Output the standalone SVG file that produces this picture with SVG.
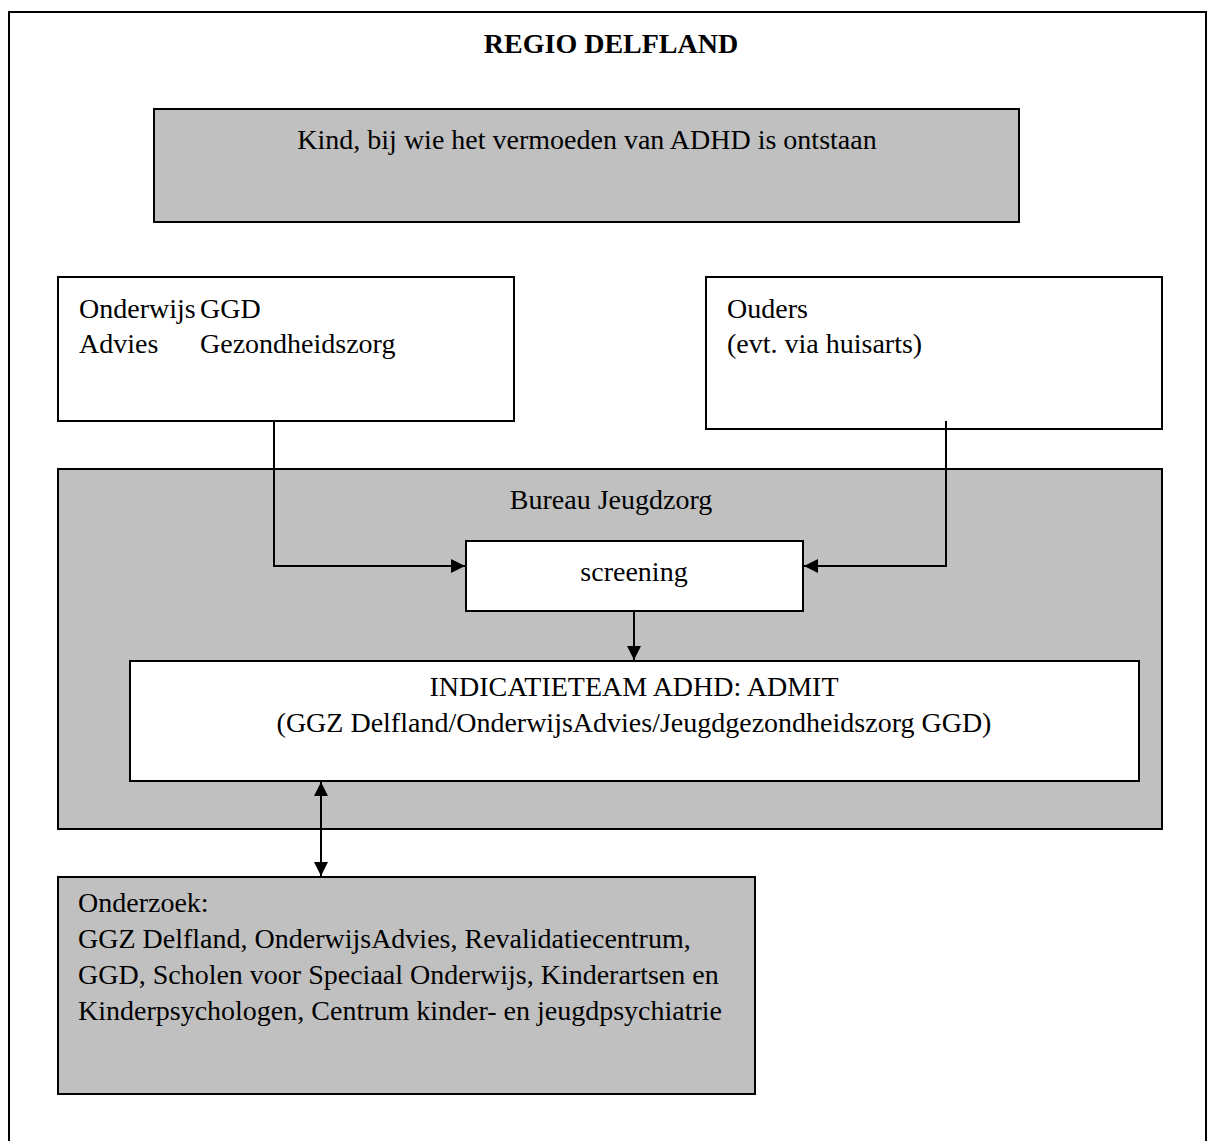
<svg xmlns="http://www.w3.org/2000/svg" width="1213" height="1141" viewBox="0 0 1213 1141">
<style>
text{font-family:"Liberation Serif","Times New Roman",serif;font-size:28px;fill:#000}
.box{stroke:#000;stroke-width:2}
.g{fill:#c0c0c0}
.w{fill:#fff}
.c{fill:none;stroke:#000;stroke-width:2}
</style>
<defs>
<marker id="ah2" viewBox="0 0 10 10" refX="10" refY="5" markerWidth="16" markerHeight="14" markerUnits="userSpaceOnUse" orient="auto-start-reverse">
<path d="M0,0 L10,5 L0,10 z" fill="#000"/>
</marker>
</defs>
<rect width="1213" height="1141" fill="#fff"/>
<g id="frame">
<rect class="box" x="9" y="12" width="1197" height="1150" fill="none"/>
<text x="611" y="53" text-anchor="middle" font-weight="bold">REGIO DELFLAND</text>
</g>
<g id="kind">
<rect class="box g" x="154" y="109" width="865" height="113"/>
<text x="587" y="149" text-anchor="middle">Kind, bij wie het vermoeden van ADHD is ontstaan</text>
</g>
<g id="onderwijs">
<rect class="box w" x="58" y="277" width="456" height="144"/>
<text x="79" y="318">Onderwijs</text>
<text x="200" y="318">GGD</text>
<text x="79" y="353">Advies</text>
<text x="200" y="353">Gezondheidszorg</text>
</g>
<g id="ouders">
<rect class="box w" x="706" y="277" width="456" height="152"/>
<text x="727" y="318">Ouders</text>
<text x="727" y="353">(evt. via huisarts)</text>
</g>
<g id="bureau">
<rect class="box g" x="58" y="469" width="1104" height="360"/>
<text x="611" y="509" text-anchor="middle">Bureau Jeugdzorg</text>
</g>
<g id="screening">
<rect class="box w" x="466" y="541" width="337" height="70"/>
<text x="634" y="581" text-anchor="middle">screening</text>
</g>
<g id="indicatieteam">
<rect class="box w" x="130" y="661" width="1009" height="120"/>
<text x="634" y="696" text-anchor="middle">INDICATIETEAM ADHD: ADMIT</text>
<text x="634" y="732" text-anchor="middle">(GGZ Delfland/OnderwijsAdvies/Jeugdgezondheidszorg GGD)</text>
</g>
<g id="onderzoek">
<rect class="box g" x="58" y="877" width="697" height="217"/>
<text x="78" y="912">Onderzoek:</text>
<text x="78" y="948">GGZ Delfland, OnderwijsAdvies, Revalidatiecentrum,</text>
<text x="78" y="984">GGD, Scholen voor Speciaal Onderwijs, Kinderartsen en</text>
<text x="78" y="1020">Kinderpsychologen, Centrum kinder- en jeugdpsychiatrie</text>
</g>
<g id="connectors">
<path class="c" d="M274,421 V566 H465" marker-end="url(#ah2)"/>
<path class="c" d="M946,421 V566 H804" marker-end="url(#ah2)"/>
<path class="c" d="M634,611 V660" marker-end="url(#ah2)"/>
<path class="c" d="M321,782 V876" marker-start="url(#ah2)" marker-end="url(#ah2)"/>
</g>
</svg>
